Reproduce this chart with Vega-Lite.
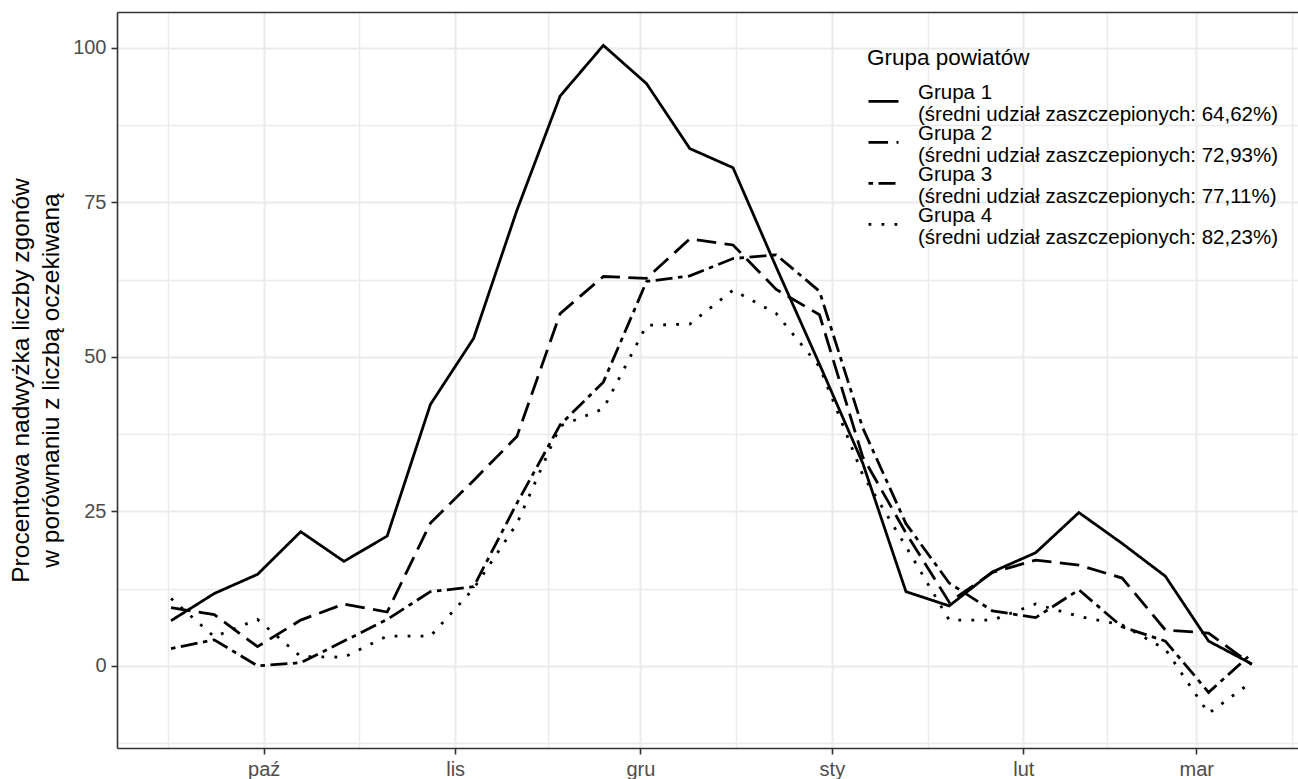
{
  "$schema": "https://vega.github.io/schema/vega-lite/v6.json",
  "width": 1181,
  "height": 736,
  "autosize": {"type": "none"},
  "padding": {"left": 117, "top": 12, "right": 0, "bottom": 31},
  "background": "white",
  "config": {
    "font": "Liberation Sans",
    "view": {"stroke": null},
    "axis": {
      "domainColor": "#333333", "domainWidth": 1.6,
      "tickColor": "#333333", "tickWidth": 1.6, "tickSize": 6,
      "labelFont": "Liberation Sans", "labelFontSize": 20, "labelColor": "#4D4D4D",
      "titleFont": "Liberation Sans", "titleFontWeight": "normal", "titleColor": "black",
      "gridColor": "#EBEBEB"
    },
    "legend": {
      "orient": "none", "legendX": 750, "legendY": 35, "padding": 0,
      "titleFont": "Liberation Sans", "titleFontSize": 22.5, "titleFontWeight": "normal", "titleColor": "black", "titlePadding": 15.4,
      "labelFont": "Liberation Sans", "labelFontSize": 20.5, "labelColor": "black", "labelLimit": 600, "labelOffset": 18,
      "symbolType": "stroke", "symbolSize": 900, "symbolStrokeWidth": 2.8, "symbolStrokeColor": "black",
      "rowPadding": -6, "labelBaseline": "middle"
    }
  },
  "data": {
    "values": [
      {"d":"2021-09-16","g":"Grupa 1","v":7.3},{"d":"2021-09-23","g":"Grupa 1","v":11.7},{"d":"2021-09-30","g":"Grupa 1","v":14.8},{"d":"2021-10-07","g":"Grupa 1","v":21.7},{"d":"2021-10-14","g":"Grupa 1","v":16.9},{"d":"2021-10-21","g":"Grupa 1","v":21.0},{"d":"2021-10-28","g":"Grupa 1","v":42.3},{"d":"2021-11-04","g":"Grupa 1","v":53.0},{"d":"2021-11-11","g":"Grupa 1","v":73.7},{"d":"2021-11-18","g":"Grupa 1","v":92.2},{"d":"2021-11-25","g":"Grupa 1","v":100.4},{"d":"2021-12-02","g":"Grupa 1","v":94.2},{"d":"2021-12-09","g":"Grupa 1","v":83.7},{"d":"2021-12-16","g":"Grupa 1","v":80.6},{"d":"2021-12-23","g":"Grupa 1","v":64.5},{"d":"2021-12-30","g":"Grupa 1","v":48.8},{"d":"2022-01-06","g":"Grupa 1","v":32.8},{"d":"2022-01-13","g":"Grupa 1","v":12.0},{"d":"2022-01-20","g":"Grupa 1","v":9.7},{"d":"2022-01-27","g":"Grupa 1","v":15.2},{"d":"2022-02-03","g":"Grupa 1","v":18.3},{"d":"2022-02-10","g":"Grupa 1","v":24.8},{"d":"2022-02-17","g":"Grupa 1","v":19.8},{"d":"2022-02-24","g":"Grupa 1","v":14.5},{"d":"2022-03-03","g":"Grupa 1","v":4.0},{"d":"2022-03-10","g":"Grupa 1","v":0.3},
      {"d":"2021-09-16","g":"Grupa 2","v":9.4},{"d":"2021-09-23","g":"Grupa 2","v":8.3},{"d":"2021-09-30","g":"Grupa 2","v":3.1},{"d":"2021-10-07","g":"Grupa 2","v":7.4},{"d":"2021-10-14","g":"Grupa 2","v":10.0},{"d":"2021-10-21","g":"Grupa 2","v":8.7},{"d":"2021-10-28","g":"Grupa 2","v":23.1},{"d":"2021-11-04","g":"Grupa 2","v":30.0},{"d":"2021-11-11","g":"Grupa 2","v":37.1},{"d":"2021-11-18","g":"Grupa 2","v":57.0},{"d":"2021-11-25","g":"Grupa 2","v":63.0},{"d":"2021-12-02","g":"Grupa 2","v":62.7},{"d":"2021-12-09","g":"Grupa 2","v":69.1},{"d":"2021-12-16","g":"Grupa 2","v":68.1},{"d":"2021-12-23","g":"Grupa 2","v":60.9},{"d":"2021-12-30","g":"Grupa 2","v":56.8},{"d":"2022-01-06","g":"Grupa 2","v":33.8},{"d":"2022-01-13","g":"Grupa 2","v":21.5},{"d":"2022-01-20","g":"Grupa 2","v":10.3},{"d":"2022-01-27","g":"Grupa 2","v":15.1},{"d":"2022-02-03","g":"Grupa 2","v":17.1},{"d":"2022-02-10","g":"Grupa 2","v":16.3},{"d":"2022-02-17","g":"Grupa 2","v":14.2},{"d":"2022-02-24","g":"Grupa 2","v":5.8},{"d":"2022-03-03","g":"Grupa 2","v":5.3},{"d":"2022-03-10","g":"Grupa 2","v":0.2},
      {"d":"2021-09-16","g":"Grupa 3","v":2.8},{"d":"2021-09-23","g":"Grupa 3","v":4.2},{"d":"2021-09-30","g":"Grupa 3","v":0.0},{"d":"2021-10-07","g":"Grupa 3","v":0.5},{"d":"2021-10-14","g":"Grupa 3","v":4.0},{"d":"2021-10-21","g":"Grupa 3","v":7.5},{"d":"2021-10-28","g":"Grupa 3","v":12.0},{"d":"2021-11-04","g":"Grupa 3","v":12.8},{"d":"2021-11-11","g":"Grupa 3","v":26.3},{"d":"2021-11-18","g":"Grupa 3","v":39.0},{"d":"2021-11-25","g":"Grupa 3","v":45.9},{"d":"2021-12-02","g":"Grupa 3","v":62.2},{"d":"2021-12-09","g":"Grupa 3","v":63.1},{"d":"2021-12-16","g":"Grupa 3","v":65.9},{"d":"2021-12-23","g":"Grupa 3","v":66.5},{"d":"2021-12-30","g":"Grupa 3","v":60.6},{"d":"2022-01-06","g":"Grupa 3","v":38.5},{"d":"2022-01-13","g":"Grupa 3","v":23.0},{"d":"2022-01-20","g":"Grupa 3","v":13.4},{"d":"2022-01-27","g":"Grupa 3","v":8.9},{"d":"2022-02-03","g":"Grupa 3","v":7.8},{"d":"2022-02-10","g":"Grupa 3","v":12.3},{"d":"2022-02-17","g":"Grupa 3","v":6.3},{"d":"2022-02-24","g":"Grupa 3","v":4.0},{"d":"2022-03-03","g":"Grupa 3","v":-4.3},{"d":"2022-03-10","g":"Grupa 3","v":2.0},
      {"d":"2021-09-16","g":"Grupa 4","v":10.9},{"d":"2021-09-23","g":"Grupa 4","v":4.7},{"d":"2021-09-30","g":"Grupa 4","v":7.5},{"d":"2021-10-07","g":"Grupa 4","v":1.5},{"d":"2021-10-14","g":"Grupa 4","v":1.4},{"d":"2021-10-21","g":"Grupa 4","v":4.8},{"d":"2021-10-28","g":"Grupa 4","v":4.8},{"d":"2021-11-04","g":"Grupa 4","v":12.5},{"d":"2021-11-11","g":"Grupa 4","v":23.0},{"d":"2021-11-18","g":"Grupa 4","v":38.8},{"d":"2021-11-25","g":"Grupa 4","v":41.6},{"d":"2021-12-02","g":"Grupa 4","v":55.1},{"d":"2021-12-09","g":"Grupa 4","v":55.3},{"d":"2021-12-16","g":"Grupa 4","v":60.8},{"d":"2021-12-23","g":"Grupa 4","v":57.0},{"d":"2021-12-30","g":"Grupa 4","v":48.4},{"d":"2022-01-06","g":"Grupa 4","v":30.9},{"d":"2022-01-13","g":"Grupa 4","v":19.3},{"d":"2022-01-20","g":"Grupa 4","v":7.4},{"d":"2022-01-27","g":"Grupa 4","v":7.4},{"d":"2022-02-03","g":"Grupa 4","v":10.0},{"d":"2022-02-10","g":"Grupa 4","v":8.0},{"d":"2022-02-17","g":"Grupa 4","v":6.6},{"d":"2022-02-24","g":"Grupa 4","v":2.7},{"d":"2022-03-03","g":"Grupa 4","v":-7.7},{"d":"2022-03-10","g":"Grupa 4","v":-2.6}
    ],
    "format": {"parse": {"d": "utc:'%Y-%m-%d'"}}
  },
  "encoding": {
    "y": {
      "field": "v", "type": "quantitative",
      "scale": {"domain": [-13.3, 105.8], "nice": false, "zero": false},
      "axis": {
        "values": [-12.5, 0, 12.5, 25, 37.5, 50, 62.5, 75, 87.5, 100],
        "labelExpr": "datum.value % 25 == 0 ? format(datum.value, 'd') : ''",
        "tickOpacity": {"condition": {"test": "datum.value % 25 == 0", "value": 1}, "value": 0},
        "gridWidth": {"condition": {"test": "datum.value % 25 == 0", "value": 2}, "value": 1.4},
        "labelPadding": 5,
        "title": ["Procentowa nadwyżka liczby zgonów", "w porównaniu z liczbą oczekiwaną"],
        "titleFontSize": 24.5, "titleLineHeight": 30, "titlePadding": 9
      }
    }
  },
  "layer": [
    {
      "mark": {"type": "line", "color": "black", "strokeWidth": 2.8, "strokeCap": "butt"},
      "encoding": {
        "x": {
          "field": "d", "type": "temporal",
          "scale": {"type": "utc", "nice": false, "domain": [{"year": 2021, "month": 9, "date": 7, "hours": 6, "utc": true}, {"year": 2022, "month": 3, "date": 17, "hours": 11, "minutes": 30, "utc": true}]},
          "axis": {
            "orient": "bottom", "title": null,
            "values": [
              {"year": 2021, "month": 9, "date": 15, "hours": 12, "utc": true},
              {"year": 2021, "month": 10, "date": 1, "utc": true},
              {"year": 2021, "month": 10, "date": 16, "hours": 12, "utc": true},
              {"year": 2021, "month": 11, "date": 1, "utc": true},
              {"year": 2021, "month": 11, "date": 16, "utc": true},
              {"year": 2021, "month": 12, "date": 1, "utc": true},
              {"year": 2021, "month": 12, "date": 16, "hours": 12, "utc": true},
              {"year": 2022, "month": 1, "date": 1, "utc": true},
              {"year": 2022, "month": 1, "date": 16, "hours": 12, "utc": true},
              {"year": 2022, "month": 2, "date": 1, "utc": true},
              {"year": 2022, "month": 2, "date": 14, "hours": 12, "utc": true},
              {"year": 2022, "month": 3, "date": 1, "utc": true},
              {"year": 2022, "month": 3, "date": 16, "hours": 12, "utc": true}
            ],
            "labelExpr": "utcdate(datum.value) == 1 ? ['sty','lut','mar','kwi','maj','cze','lip','sie','wrz','paź','lis','gru'][utcmonth(datum.value)] : ''",
            "tickOpacity": {"condition": {"test": "utcdate(datum.value) == 1", "value": 1}, "value": 0},
            "gridWidth": {"condition": {"test": "utcdate(datum.value) == 1", "value": 2}, "value": 1.4},
            "labelPadding": 5, "labelOverlap": false, "labelFlush": false
          }
        },
        "strokeDash": {
          "field": "g", "type": "nominal",
          "scale": {"domain": ["Grupa 1", "Grupa 2", "Grupa 3", "Grupa 4"], "range": [[1, 0], [19.6, 8.4], [4.5, 5.5, 17, 5.5], [2.8, 10.2]]},
          "legend": {
            "title": "Grupa powiatów",
            "labelExpr": "[datum.label, '(średni udział zaszczepionych: ' + (datum.label == 'Grupa 1' ? '64,62' : datum.label == 'Grupa 2' ? '72,93' : datum.label == 'Grupa 3' ? '77,11' : '82,23') + '%)']",
            "encode": {
              "labels": {"update": {"lineHeight": {"value": 21.6}, "dy": {"value": -8.4}}}
            }
          }
        }
      }
    },
    {
      "mark": {"type": "line", "opacity": 0},
      "encoding": {
        "x": {
          "field": "d", "type": "temporal",
          "scale": {"type": "utc", "nice": false, "domain": [{"year": 2021, "month": 9, "date": 7, "hours": 6, "utc": true}, {"year": 2022, "month": 3, "date": 17, "hours": 11, "minutes": 30, "utc": true}]},
          "axis": {"orient": "top", "title": null, "labels": false, "ticks": false, "grid": false, "domain": true}
        }
      }
    }
  ],
  "resolve": {"axis": {"x": "independent"}}
}
